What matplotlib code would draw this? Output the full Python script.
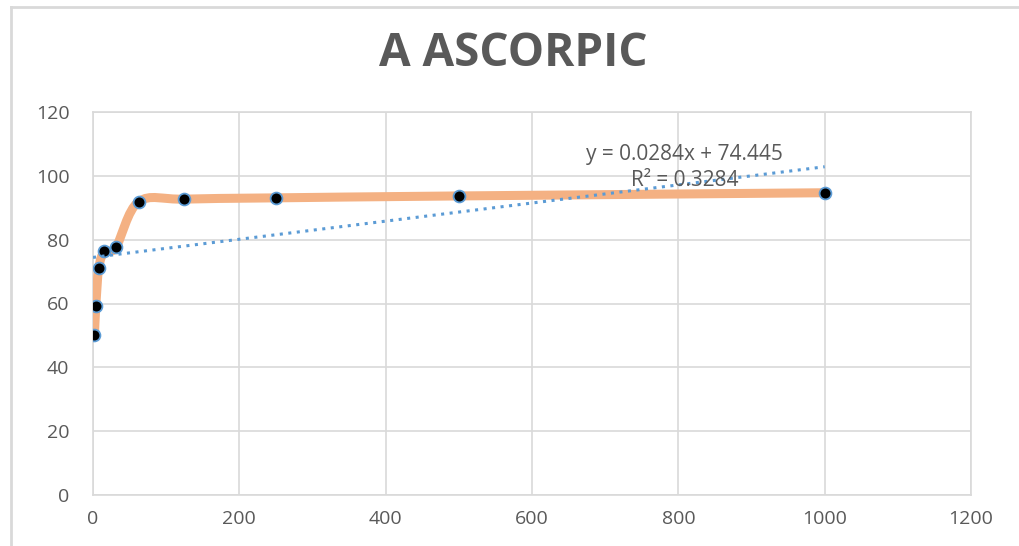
import numpy as np
import matplotlib
matplotlib.use("Agg")
import matplotlib.pyplot as plt
from matplotlib.path import Path
from matplotlib.patches import PathPatch
from matplotlib import font_manager

# ── Data ─────────────────────────────────────────────────────
conc = [1.95, 3.9, 7.8, 15.6, 31.25, 62.5, 125, 250, 500, 1000]
inhibition = [50.0, 59.3, 71.0, 76.3, 77.6, 91.9, 92.7, 93.1, 93.7, 94.7]
trend_slope = 0.0284
trend_icept = 74.445
trend_x = [0, 1000]
x_ticks = [0, 200, 400, 600, 800, 1000, 1200]
y_ticks = [0, 20, 40, 60, 80, 100, 120]
title = "A ASCORPIC"
eq_text = "y = 0.0284x + 74.445"
r2_text = "R² = 0.3284"

GREY = "#595959"
GRID = "#d9d9d9"
ORANGE = "#f4b183"
BLUE = "#5b9bd5"

names = {f.name for f in font_manager.fontManager.ttflist}
main_font = "Open Sans" if "Open Sans" in names else "DejaVu Sans"


def smooth_path(xs, ys):
    """Excel-style smoothed line: cubic Bezier through every point."""
    pts = np.column_stack([xs, ys])
    n = len(pts)
    verts = [pts[0]]
    codes = [Path.MOVETO]
    for i in range(n - 1):
        p0 = pts[max(i - 1, 0)]
        p1 = pts[i]
        p2 = pts[i + 1]
        p3 = pts[min(i + 2, n - 1)]
        c1 = p1 + (p2 - p0) / 6.0
        c2 = p2 - (p3 - p1) / 6.0
        verts += [c1, c2, p2]
        codes += [Path.CURVE4] * 3
    return Path(verts, codes)


fig = plt.figure(figsize=(10.19, 5.46), dpi=100)
ax = fig.add_axes([93 / 1019, 1 - 495 / 546, (971 - 93) / 1019, (495 - 112) / 546])

# outer chart frame (top and left edges visible)
fig.add_artist(plt.Line2D([11 / 1019, 1], [1 - 7 / 546, 1 - 7 / 546],
                          transform=fig.transFigure, color=GRID, lw=2))
fig.add_artist(plt.Line2D([11 / 1019, 11 / 1019], [0, 1 - 7 / 546],
                          transform=fig.transFigure, color=GRID, lw=2))

ax.set_xlim(0, 1200)
ax.set_ylim(0, 120)
ax.set_xticks(x_ticks)
ax.set_yticks(y_ticks)
ax.grid(True, color=GRID, lw=1.2)
ax.set_axisbelow(True)
for sp in ax.spines.values():
    sp.set_color(GRID)
    sp.set_linewidth(1.2)
ax.tick_params(length=0, colors=GREY, labelsize=14, pad=11)
ax.tick_params(axis="y", pad=17)
for lab in ax.get_xticklabels() + ax.get_yticklabels():
    lab.set_fontfamily(main_font)

# smoothed series line
ax.add_patch(PathPatch(smooth_path(conc, inhibition), facecolor="none",
                       edgecolor=ORANGE, lw=6.5, capstyle="round", zorder=3))
ax.plot(conc, inhibition, ls="none", marker="o", ms=8.5, mfc="black",
        mec=BLUE, mew=1.3, zorder=4)

# linear trendline
tx = np.array(trend_x)
ax.plot(tx, trend_slope * tx + trend_icept, ls=(0, (1, 1.8)), color=BLUE,
        lw=2.2, zorder=5)
ax.text(809, 106.6, eq_text, ha="center", va="center", color=GREY,
        fontsize=15, family=main_font, zorder=6)
ax.text(809, 98.4, r2_text, ha="center", va="center", color=GREY,
        fontsize=15, family=main_font, zorder=6)

fig.text(513 / 1019, 1 - 54 / 546, title, ha="center", va="center",
         color=GREY, fontsize=33, fontweight="bold", family=main_font)

fig.savefig("out.png", dpi=100)
